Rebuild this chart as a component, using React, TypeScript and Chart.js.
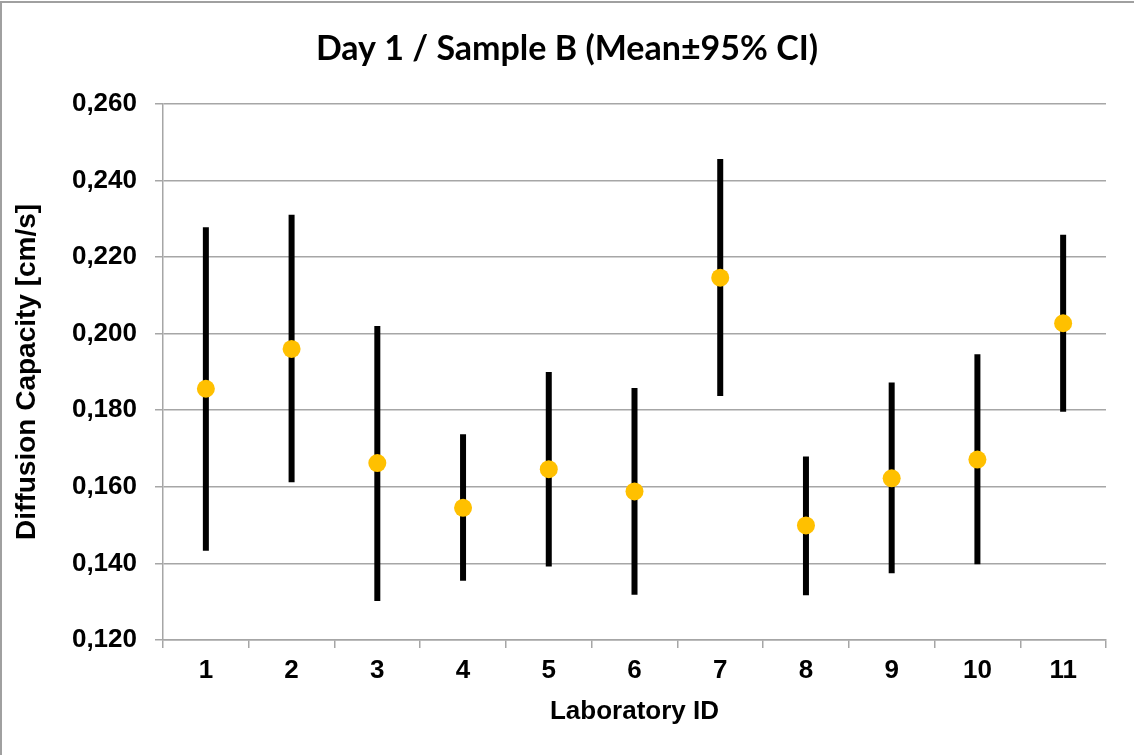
import React, { useEffect, useRef } from "react";
import { Chart, registerables } from "chart.js";

Chart.register(...registerables);

const labIds = ["1", "2", "3", "4", "5", "6", "7", "8", "9", "10", "11"];
const means = [0.1856, 0.196, 0.1662, 0.1545, 0.1646, 0.1588, 0.2146, 0.1499, 0.1622, 0.1671, 0.2027];
const ciUpper = [0.2278, 0.231, 0.202, 0.1737, 0.19, 0.1858, 0.2456, 0.1679, 0.1872, 0.1946, 0.2258];
const ciLower = [0.1433, 0.1612, 0.1302, 0.1355, 0.1392, 0.1318, 0.1837, 0.1317, 0.1374, 0.1398, 0.1796];
const yMin = 0.12;
const yMax = 0.26;
const yStep = 0.02;

const titleText = "Day 1 / Sample B (Mean\u00B195% CI)";
const xTitle = "Laboratory ID";
const yTitle = "Diffusion Capacity [cm/s]";

const errorBarPlugin = {
  id: "errorBars",
  beforeDatasetsDraw(chart: any) {
    const meta = chart.getDatasetMeta(0);
    const yScale = chart.scales.y;
    const ctx = chart.ctx;
    ctx.save();
    ctx.strokeStyle = "#000000";
    ctx.lineWidth = 6;
    ctx.lineCap = "butt";
    meta.data.forEach((pt: any, i: number) => {
      const yTop = yScale.getPixelForValue(ciUpper[i]);
      const yBot = yScale.getPixelForValue(ciLower[i]);
      ctx.beginPath();
      ctx.moveTo(pt.x, yTop);
      ctx.lineTo(pt.x, yBot);
      ctx.stroke();
    });
    ctx.restore();
  },
};

export default function App() {
  const canvasRef = useRef<HTMLCanvasElement | null>(null);

  useEffect(() => {
    const canvas = canvasRef.current;
    if (!canvas) return;
    const gridColor = "#A6A6A6";
    const axisFont = { family: "Liberation Sans", size: 26, weight: "bold" as const };
    const chart = new Chart(canvas, {
      type: "line",
      data: {
        labels: labIds,
        datasets: [
          {
            data: means,
            showLine: false,
            pointRadius: 9,
            pointHoverRadius: 9,
            pointBackgroundColor: "#FFC000",
            pointBorderColor: "#FFC000",
            pointBorderWidth: 0,
          },
        ],
      },
      options: {
        responsive: false,
        animation: false,
        devicePixelRatio: 1,
        layout: { padding: { left: 28, right: 28, top: 0, bottom: 0 } },
        plugins: {
          legend: { display: false },
          tooltip: { enabled: false },
          title: {
            display: true,
            text: titleText,
            color: "#000000",
            font: { family: "Lato", size: 34, weight: "bold" },
            padding: { top: 29, bottom: 34 },
          },
        },
        scales: {
          x: {
            type: "category",
            offset: true,
            grid: {
              offset: true,
              drawOnChartArea: false,
              drawTicks: true,
              tickLength: 8,
              color: gridColor,
              lineWidth: 1.5,
            },
            border: { color: gridColor, width: 1.5 },
            ticks: {
              color: "#000000",
              font: axisFont,
              padding: 7,
              maxRotation: 0,
            },
            title: {
              display: true,
              text: xTitle,
              color: "#000000",
              font: axisFont,
              padding: { top: 4, bottom: 28 },
            },
            afterFit(scale: any) {
              scale.height = 115;
            },
          },
          y: {
            min: yMin,
            max: yMax,
            grid: {
              color: gridColor,
              lineWidth: 1.5,
              tickLength: 8,
            },
            border: { color: gridColor, width: 1.5 },
            ticks: {
              stepSize: yStep,
              color: "#000000",
              font: axisFont,
              padding: 18,
              callback: (v: any) => Number(v).toFixed(3).replace(".", ","),
            },
            title: {
              display: true,
              text: yTitle,
              color: "#000000",
              font: { family: "Liberation Sans", size: 28, weight: "bold" },
              padding: { top: -18, bottom: 0 },
            },
            afterFit(scale: any) {
              scale.width = 135;
            },
          },
        },
      },
      plugins: [errorBarPlugin],
    });
    return () => chart.destroy();
  }, []);

  return (
    <div
      style={{
        position: "absolute",
        left: 0,
        top: 0,
        width: 1134,
        height: 755,
        background: "#ffffff",
        overflow: "hidden",
      }}
    >
      <div
        style={{
          position: "absolute",
          left: 0,
          top: 1,
          width: 1134,
          height: 754,
          borderTop: "2px solid #A0A0A0",
          borderLeft: "2px solid #A0A0A0",
          boxSizing: "border-box",
          pointerEvents: "none",
          zIndex: 1,
        }}
      />
      <canvas ref={canvasRef} width={1134} height={755} style={{ display: "block" }} />
    </div>
  );
}
